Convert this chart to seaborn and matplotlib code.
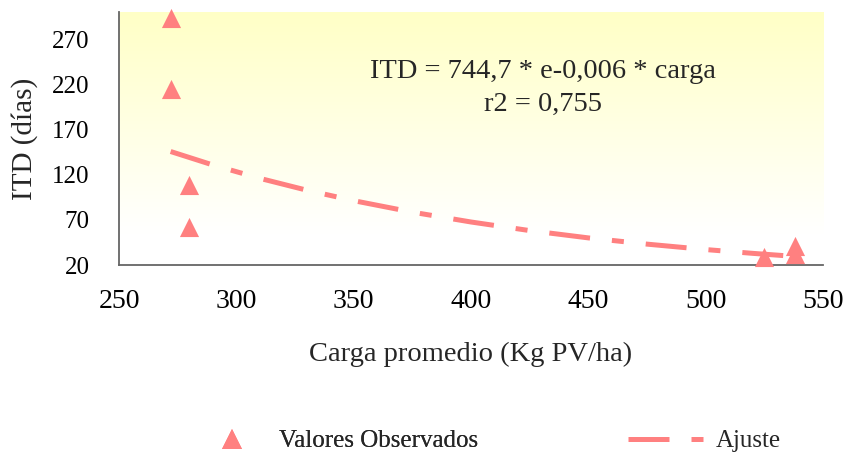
import numpy as np
import pandas as pd
import seaborn as sns
import matplotlib
matplotlib.use("Agg")
import matplotlib.pyplot as plt
from matplotlib.lines import Line2D
from matplotlib.colors import LinearSegmentedColormap

# Observed values
carga_obs = [272, 272, 280, 280, 525, 538, 538]
itd_obs = [293, 215, 109, 62, 29, 41, 32]

# Fitted curve values
carga_fit = [272, 290, 310, 330, 350, 375, 400, 425, 450, 475, 500, 520, 538]
itd_fit = [145.6, 130.7, 115.9, 102.8, 91.2, 78.5, 67.6, 58.1, 50.0, 43.1, 37.1, 32.9, 29.5]

x_ticks = [250, 300, 350, 400, 450, 500, 550]
y_ticks = [20, 70, 120, 170, 220, 270]

equation_text = "ITD = 744,7 * e-0,006 * carga\nr2 = 0,755"
x_label = "Carga promedio (Kg PV/ha)"
y_label = "ITD (días)"
legend_obs = "Valores Observados"
legend_fit = "Ajuste"

COLOR = "#FF8080"
FONT = ["Liberation Serif", "DejaVu Serif"]

sns.set_theme(style="white")
plt.rcParams["font.family"] = FONT

df_obs = pd.DataFrame({"carga": carga_obs, "itd": itd_obs})
df_fit = pd.DataFrame({"carga": carga_fit, "itd": itd_fit})

fig = plt.figure(figsize=(8.47, 4.55), dpi=100)
ax = fig.add_axes([119 / 847, 1 - 265 / 455, (823 - 119) / 847, (265 - 12) / 455])

# Background gradient (yellow at top fading to white)
grad = np.linspace(0, 1, 256).reshape(-1, 1)
grad = np.clip((grad - 0.12) / 0.88, 0, 1)
cmap = LinearSegmentedColormap.from_list("bg", ["#FFFFFF", "#FFFFC6"])
ax.imshow(grad, aspect="auto", cmap=cmap, origin="lower",
          extent=[0, 1, 0, 1], transform=ax.transAxes, zorder=0)

dash = (0, (8.2, 4.4, 2.4, 4.4))
sns.lineplot(data=df_fit, x="carga", y="itd", ax=ax, color=COLOR,
             linewidth=3.6, linestyle=dash, zorder=2, sort=True)
sns.scatterplot(data=df_obs, x="carga", y="itd", ax=ax, color=COLOR,
                marker="^", s=190, linewidth=0, zorder=3, clip_on=False)

ax.set_xlim(250, 550)
ax.set_ylim(20, 300)
ax.set_xticks(x_ticks)
ax.set_yticks(y_ticks)
ax.tick_params(axis="both", colors="black", direction="out",
               length=7, width=1.2, color="#555555")
ax.tick_params(axis="x", labelsize=20, pad=10)
ax.tick_params(axis="y", labelsize=18, pad=14)
for lab in ax.get_xticklabels() + ax.get_yticklabels():
    lab.set_family(FONT)

for s in ["top", "right"]:
    ax.spines[s].set_visible(False)
for s in ["left", "bottom"]:
    ax.spines[s].set_color("#666666")
    ax.spines[s].set_linewidth(1.3)

ax.set_xlabel(x_label, fontsize=20.5, va="top")
ax.xaxis.set_label_coords(0.5, (265 - 342) / 253)
ax.set_ylabel(y_label, fontsize=21)
ax.yaxis.set_label_coords((38 - 119) / 704, 0.5)

ax.text(430.7, 216, equation_text, ha="center", va="center", fontsize=20.5,
        linespacing=1.38, multialignment="center", zorder=4)

# Legends
h1 = Line2D([], [], color=COLOR, marker="^", linestyle="none", markersize=14,
            markeredgewidth=0)
leg1 = fig.legend([h1], [legend_obs], loc="center left",
                  bbox_to_anchor=(205 / 847, 1 - 441 / 455), frameon=False,
                  fontsize=18, handlelength=2.16, handletextpad=0.8,
                  borderpad=0, borderaxespad=0)
h2 = Line2D([], [], color=COLOR, linewidth=3.6, linestyle=dash)
leg2 = fig.legend([h2], [legend_fit], loc="center left",
                  bbox_to_anchor=(628 / 847, 1 - 441 / 455), frameon=False,
                  fontsize=18, handlelength=3.0, handletextpad=0.52,
                  borderpad=0, borderaxespad=0)
fig.add_artist(leg1)

fig.savefig("out.png", dpi=100)
